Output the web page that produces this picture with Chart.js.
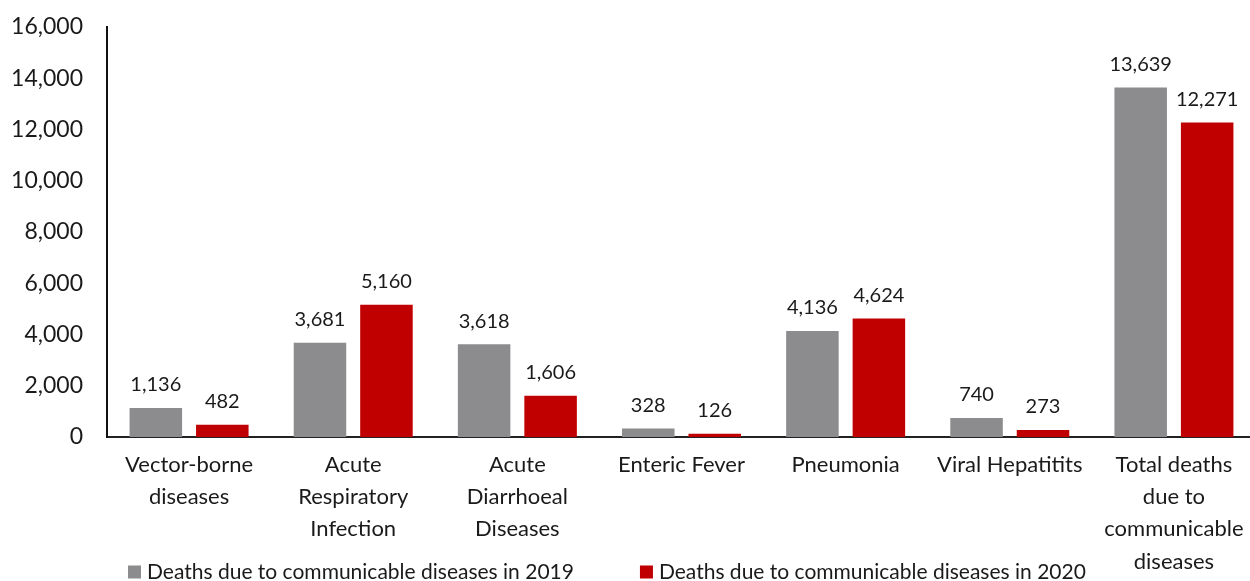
<!DOCTYPE html>
<html>
<head>
<meta charset="utf-8">
<script src="https://cdn.jsdelivr.net/npm/chart.js@4"></script>
<style>
  html, body { margin: 0; padding: 0; background: #fff; overflow: hidden; }
  #clip { width: 1250px; height: 581px; overflow: hidden; }
  #wrap { width: 1256px; height: 581px; position: relative; }
</style>
</head>
<body>
<div id="clip"><div id="wrap"><canvas id="myChart"></canvas></div></div>
<script>
// chart data
let categories = [
  ["Vector-borne", "diseases"],
  ["Acute", "Respiratory", "Infection"],
  ["Acute", "Diarrhoeal", "Diseases"],
  "Enteric Fever",
  "Pneumonia",
  "Viral Hepatitits",
  ["Total deaths", "due to", "communicable", "diseases"]
];
let deaths2019 = [1136, 3681, 3618, 328, 4136, 740, 13639];
let deaths2020 = [482, 5160, 1606, 126, 4624, 273, 12271];
let seriesNames = ["Deaths due to communicable diseases in 2019", "Deaths due to communicable diseases in 2020"];
let yTicks = [0, 2000, 4000, 6000, 8000, 10000, 12000, 14000, 16000];

const FONT = "Lato, 'Open Sans', sans-serif";
const TEXT = "#1a1a1a";

// value labels above bars
const barLabels = {
  id: 'barLabels',
  afterDatasetsDraw(chart) {
    let ctx = chart.ctx;
    ctx.save();
    ctx.font = "20px " + FONT;
    ctx.fillStyle = TEXT;
    ctx.textAlign = 'center';
    ctx.textBaseline = 'bottom';
    chart.data.datasets.forEach((ds, i) => {
      chart.getDatasetMeta(i).data.forEach((bar, j) => {
        ctx.fillText(ds.data[j].toLocaleString('en-US'), bar.x, bar.y - 13);
      });
    });
    ctx.restore();
  }
};

// legend along the bottom
const bottomLegend = {
  id: 'bottomLegend',
  afterDraw(chart) {
    let ctx = chart.ctx;
    ctx.save();
    ctx.font = "21px " + FONT;
    ctx.textBaseline = 'middle';
    ctx.textAlign = 'left';
    let x = 128, y = 572, box = 13;
    chart.data.datasets.forEach((ds) => {
      ctx.fillStyle = ds.backgroundColor;
      ctx.fillRect(x, y - box / 2, box, box);
      ctx.fillStyle = TEXT;
      ctx.fillText(ds.label, x + box + 6, y);
      x += box + 6 + ctx.measureText(ds.label).width + 66;
    });
    ctx.restore();
  }
};

const ctx = document.getElementById('myChart');

let myChart = new Chart(ctx, {
  type: 'bar',
  data: {
    labels: categories,
    datasets: [{
      label: seriesNames[0],
      data: deaths2019,
      backgroundColor: '#8c8c8e',
      categoryPercentage: 0.81,
      barPercentage: 0.79
    }, {
      label: seriesNames[1],
      data: deaths2020,
      backgroundColor: '#c00000',
      categoryPercentage: 0.81,
      barPercentage: 0.79
    }]
  },
  options: {
    responsive: true,
    maintainAspectRatio: false,
    animation: false,
    layout: {
      padding: { top: 27, right: 0, bottom: 0, left: 0 }
    },
    plugins: {
      legend: { display: false },
      tooltip: { enabled: false }
    },
    scales: {
      x: {
        grid: { display: false, drawTicks: false },
        border: { display: true, color: '#222', width: 2 },
        ticks: {
          color: TEXT,
          padding: 12,
          maxRotation: 0,
          autoSkip: false,
          font: { family: FONT, size: 22, lineHeight: 1.46 }
        },
        afterFit: (scale) => { scale.height = 144; scale.paddingTop = 0; scale.paddingBottom = 0; }
      },
      y: {
        min: 0,
        max: 16000,
        afterBuildTicks: (scale) => { scale.ticks = yTicks.map(v => ({ value: v })); },
        grid: { display: false, drawTicks: false },
        border: { display: true, color: '#111', width: 2 },
        ticks: {
          color: TEXT,
          padding: 24,
          font: { family: FONT, size: 23 },
          callback: (v) => v.toLocaleString('en-US')
        },
        afterFit: (scale) => { scale.width = 107; scale.paddingTop = 0; scale.paddingBottom = 0; }
      }
    }
  },
  plugins: [barLabels, bottomLegend]
});
</script>
</body>
</html>
